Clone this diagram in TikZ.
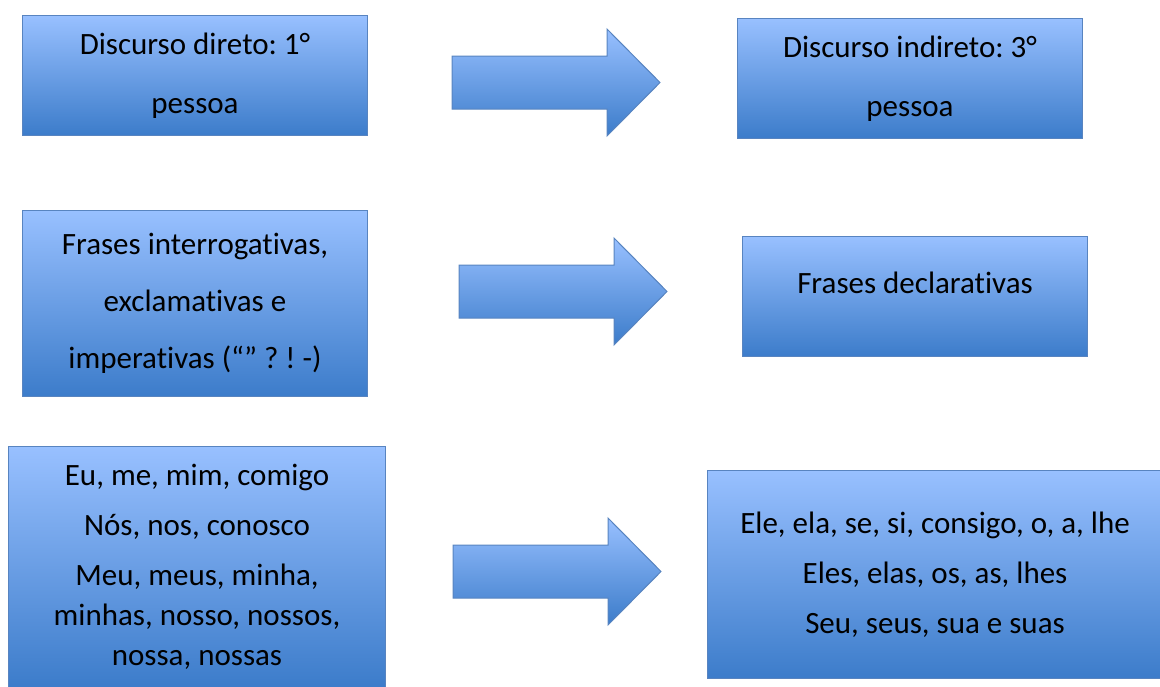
\documentclass[tikz,border=0pt]{standalone}
\usepackage{fontspec}
\setmainfont{Carlito}[Ligatures=NoCommon]
\frenchspacing
\usepackage{tikz}
\newcommand{\boxFont}[1]{\fontsize{31}{#1}\selectfont}
\newcommand{\blockArrow}[1]{%
  \draw[blockarrow] (#1) -- ++(155,0) -- ++(0,-27) -- ++(53,53.5)
    -- ++(-53,53.5) -- ++(0,-27) -- ++(-155,0) -- cycle;}

\begin{document}
\begin{tikzpicture}[x=1pt, y=-1pt]
  \tikzset{
    shade blue/.style={top color={rgb,255:red,152;green,192;blue,255},
      middle color={rgb,255:red,118;green,163;blue,228},
      bottom color={rgb,255:red,60;green,124;blue,202},
      draw={rgb,255:red,88;green,132;blue,192}, line width=1pt},
    textbox/.style={shade blue, anchor=north west, align=center,
      inner sep=0pt, text=black},
    blockarrow/.style={shade blue, line join=miter}
  }
  \useasboundingbox (0,0) rectangle (1160,686);
  % left column
  \node[textbox, minimum width=345pt, minimum height=120pt,
        font=\boxFont{59}] (direto) at (22,15)
        {Discurso direto: 1°\\pessoa};
  \node[textbox, minimum width=345pt, minimum height=186pt,
        font=\boxFont{57}] (frases) at (22,210)
        {Frases interrogativas,\\exclamativas e\\imperativas (“” ? ! -)};
  \node[textbox, minimum width=377pt, minimum height=241pt,
        font=\boxFont{40}] (primeira) at (8,446)
        {Eu, me, mim, comigo\\[10pt]Nós, nos, conosco\\[10pt]Meu, meus, minha,\\minhas, nosso, nossos,\\nossa, nossas};
  % right column
  \node[textbox, minimum width=345pt, minimum height=120pt,
        font=\boxFont{59}] (indireto) at (737,18)
        {Discurso indireto: 3°\\pessoa};
  \node[textbox, minimum width=345pt, minimum height=120pt,
        font=\boxFont{28}] (declarativas) at (742,236)
        {Frases declarativas\\\mbox{}};
  \node[textbox, minimum width=455pt, minimum height=208pt,
        font=\boxFont{50}] (terceira) at (707,470)
        {Ele, ela, se, si, consigo, o, a, lhe\\Eles, elas, os, as, lhes\\Seu, seus, sua e suas};
  % arrows
  \coordinate (seta1) at (452,56);
  \coordinate (seta2) at (459,265);
  \coordinate (seta3) at (453,545);
  \blockArrow{seta1}
  \blockArrow{seta2}
  \blockArrow{seta3}
\end{tikzpicture}
\end{document}
